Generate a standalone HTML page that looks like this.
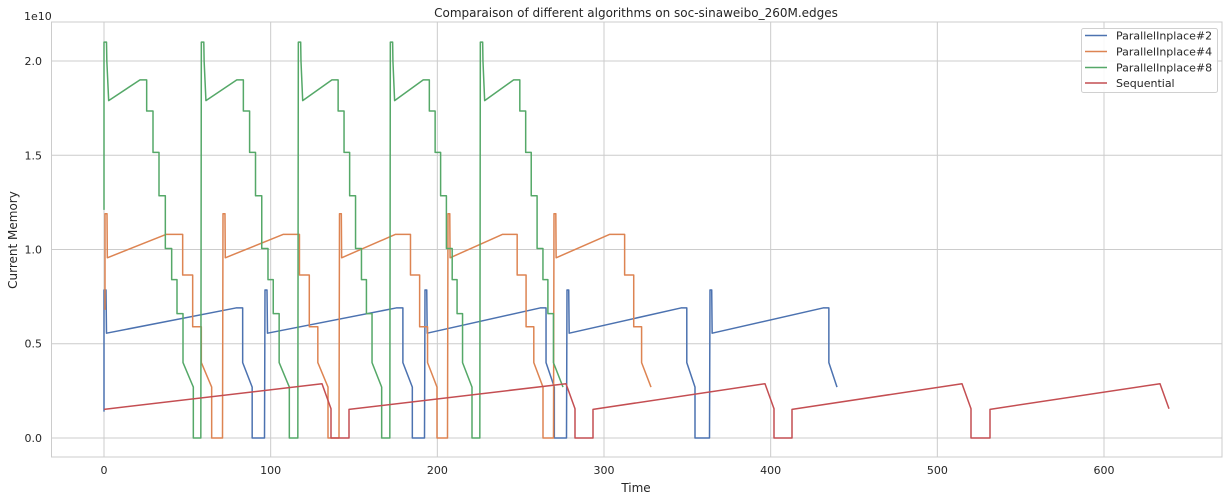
<!DOCTYPE html>
<html><head><meta charset="utf-8"><style>
html,body{margin:0;padding:0;background:#fff;}
svg{display:block;font-family:"DejaVu Sans","Liberation Sans",sans-serif;}
</style></head><body>
<svg id="chart" width="1230" height="501" viewBox="0 0 1230 501">
<rect x="0" y="0" width="1230" height="501" fill="#fff"/>
<g id="grid"></g>
<g id="series"></g>
<g id="axes"></g>
<text x="636" y="17" text-anchor="middle" font-size="12" fill="#262626">Comparaison of different algorithms on soc-sinaweibo_260M.edges</text>
<text x="636" y="492" text-anchor="middle" font-size="12" fill="#262626">Time</text>
<text x="0" y="0" transform="translate(17,240) rotate(-90)" text-anchor="middle" font-size="12" fill="#262626">Current Memory</text>
<text x="24" y="20" font-size="11" fill="#262626">1e10</text>
<g>
<rect x="1081.5" y="28.5" width="136" height="64" rx="2" fill="#fff" fill-opacity="0.85" stroke="#d0d0d0"/>
<g><line x1="1085" y1="35.5" x2="1107" y2="35.5" stroke="#4c72b0" stroke-width="1.5"/><text x="1116" y="39.5" font-size="11" fill="#262626">ParallelInplace#2</text></g>
<g><line x1="1085" y1="51.5" x2="1107" y2="51.5" stroke="#dd8452" stroke-width="1.5"/><text x="1116" y="55.5" font-size="11" fill="#262626">ParallelInplace#4</text></g>
<g><line x1="1085" y1="67.5" x2="1107" y2="67.5" stroke="#55a868" stroke-width="1.5"/><text x="1116" y="71.5" font-size="11" fill="#262626">ParallelInplace#8</text></g>
<g><line x1="1085" y1="83" x2="1107" y2="83" stroke="#c44e52" stroke-width="1.5"/><text x="1116" y="87" font-size="11" fill="#262626">Sequential</text></g>
</g>
</svg>
<script>
// ---- data (values in units of 1e10, time in seconds) ----
const xTicks = [0, 100, 200, 300, 400, 500, 600];
const yTicks = [0.0, 0.5, 1.0, 1.5, 2.0];
const yTickLabels = ["0.0", "0.5", "1.0", "1.5", "2.0"];

// ParallelInplace#8 (green)
const p8Peaks = [0, 58.4, 116.6, 171.8, 225.8];
const p8ZeroStarts = [53.6, 111.2, 166.6, 220.8, 275.4];
const p8Times = [0, 1.5, 1.7, 2.8, 21.6, 25.6, 25.6, 29.4, 29.4, 33, 33, 36.8, 36.8, 40.6, 40.6, 43.8, 43.8, 47.4, 47.4, 53.6];
const p8Values = [2.1, 2.1, 2.0, 1.79, 1.9, 1.9, 1.735, 1.735, 1.515, 1.515, 1.285, 1.285, 1.005, 1.005, 0.84, 0.84, 0.66, 0.66, 0.40, 0.27];
const p8Initial = 1.21;

// ParallelInplace#4 (orange)
const p4Peaks = [0.6, 71.4, 141.3, 206.4, 270];
const p4ZeroStarts = [64.6, 134.4, 199.8, 263.4, 328.2];
const p4Times = [0, 1.2, 1.4, 36.6, 46.6, 46.6, 52.6, 52.6, 57.8, 57.8, 64];
const p4Values = [1.19, 1.19, 0.956, 1.08, 1.08, 0.865, 0.865, 0.59, 0.59, 0.40, 0.27];
const p4Initial = 0.68;

// ParallelInplace#2 (blue)
const p2Peaks = [0, 96.6, 192.6, 277.8, 363.6];
const p2ZeroStarts = [88.9, 185, 270.2, 354.6, 439.8];
const p2Times = [0, 1.2, 1.5, 79.2, 83.2, 83.2, 88.9];
const p2Values = [0.785, 0.785, 0.556, 0.69, 0.69, 0.40, 0.27];
const p2Initial = 0.14;

// Sequential (red)
const seqStarts = [0, 147, 293.4, 412.8, 531.6];
const seqPeaks = [130.8, 277.2, 396.6, 514.8, 633.6];
const seqStartValues = [0.152, 0.152, 0.152, 0.152, 0.152];
const seqPeakValues = [0.288, 0.288, 0.288, 0.288, 0.288];
const seqDropValue = 0.155;
const seqDropDuration = 5.4;

// ---- scales ----
const L = 51.5, R = 1222, T = 22, B = 457;
const xMin = -31.5, xMax = 670.8, yMin = -0.1008, yMax = 2.2069;
function xs(t){ return L + (t - xMin) / (xMax - xMin) * (R - L); }
function ys(v){ return B - (v - yMin) / (yMax - yMin) * (B - T); }

const NS = "http://www.w3.org/2000/svg";
const grid = document.getElementById('grid');
const axes = document.getElementById('axes');
const series = document.getElementById('series');

xTicks.forEach(t => {
  const ln = document.createElementNS(NS, 'line');
  ln.setAttribute('x1', xs(t)); ln.setAttribute('x2', xs(t));
  ln.setAttribute('y1', T); ln.setAttribute('y2', B);
  ln.setAttribute('stroke', '#cccccc'); ln.setAttribute('stroke-width', '1');
  
  
  grid.appendChild(ln);
  const tx = document.createElementNS(NS, 'text');
  tx.setAttribute('x', xs(t)); tx.setAttribute('y', 474);
  tx.setAttribute('text-anchor', 'middle'); tx.setAttribute('font-size', '11'); tx.setAttribute('fill', '#262626');
  tx.textContent = String(t);
  
  
  axes.appendChild(tx);
});
yTicks.forEach((v, i) => {
  const ln = document.createElementNS(NS, 'line');
  ln.setAttribute('x1', L); ln.setAttribute('x2', R);
  ln.setAttribute('y1', ys(v)); ln.setAttribute('y2', ys(v));
  ln.setAttribute('stroke', '#cccccc'); ln.setAttribute('stroke-width', '1');
  
  
  grid.appendChild(ln);
  const tx = document.createElementNS(NS, 'text');
  tx.setAttribute('x', 42); tx.setAttribute('y', ys(v) + 4);
  tx.setAttribute('text-anchor', 'end'); tx.setAttribute('font-size', '11'); tx.setAttribute('fill', '#262626');
  tx.textContent = yTickLabels[i];
  
  
  axes.appendChild(tx);
});
const frame = document.createElementNS(NS, 'rect');
frame.setAttribute('x', L); frame.setAttribute('y', T);
frame.setAttribute('width', R - L); frame.setAttribute('height', B - T);
frame.setAttribute('fill', 'none'); frame.setAttribute('stroke', '#cccccc');


axes.appendChild(frame);

function cyclic(peaks, zeroStarts, times, values, initial){
  const T0 = times[times.length - 1];
  const pts = [[peaks[0], initial]];
  for (let k = 0; k < peaks.length; k++){
    const s = (zeroStarts[k] - peaks[k]) / T0;
    for (let j = 0; j < times.length; j++) pts.push([peaks[k] + times[j] * s, values[j]]);
    if (k < peaks.length - 1){
      pts.push([zeroStarts[k], 0]);
      pts.push([peaks[k + 1] - 0.3, 0]);
    }
  }
  return pts;
}
function seqPoints(){
  const pts = [];
  for (let k = 0; k < seqStarts.length; k++){
    if (k > 0) pts.push([seqStarts[k], 0]);
    pts.push([seqStarts[k], seqStartValues[k]]);
    pts.push([seqPeaks[k], seqPeakValues[k]]);
    pts.push([seqPeaks[k] + seqDropDuration, seqDropValue]);
    if (k < seqStarts.length - 1) pts.push([seqPeaks[k] + seqDropDuration, 0]);
  }
  return pts;
}
function draw(pts, color, name){
  const pl = document.createElementNS(NS, 'polyline');
  pl.setAttribute('points', pts.map(p => xs(p[0]).toFixed(2) + ',' + ys(p[1]).toFixed(2)).join(' '));
  pl.setAttribute('fill', 'none'); pl.setAttribute('stroke', color);
  pl.setAttribute('stroke-width', '1.5'); pl.setAttribute('stroke-linejoin', 'round');
  
  
  series.appendChild(pl);
}
draw(cyclic(p2Peaks, p2ZeroStarts, p2Times, p2Values, p2Initial), '#4c72b0', 'line-parallel2');
draw(cyclic(p4Peaks, p4ZeroStarts, p4Times, p4Values, p4Initial), '#dd8452', 'line-parallel4');
draw(cyclic(p8Peaks, p8ZeroStarts, p8Times, p8Values, p8Initial), '#55a868', 'line-parallel8');
draw(seqPoints(), '#c44e52', 'line-sequential');
</script>
</body></html>
